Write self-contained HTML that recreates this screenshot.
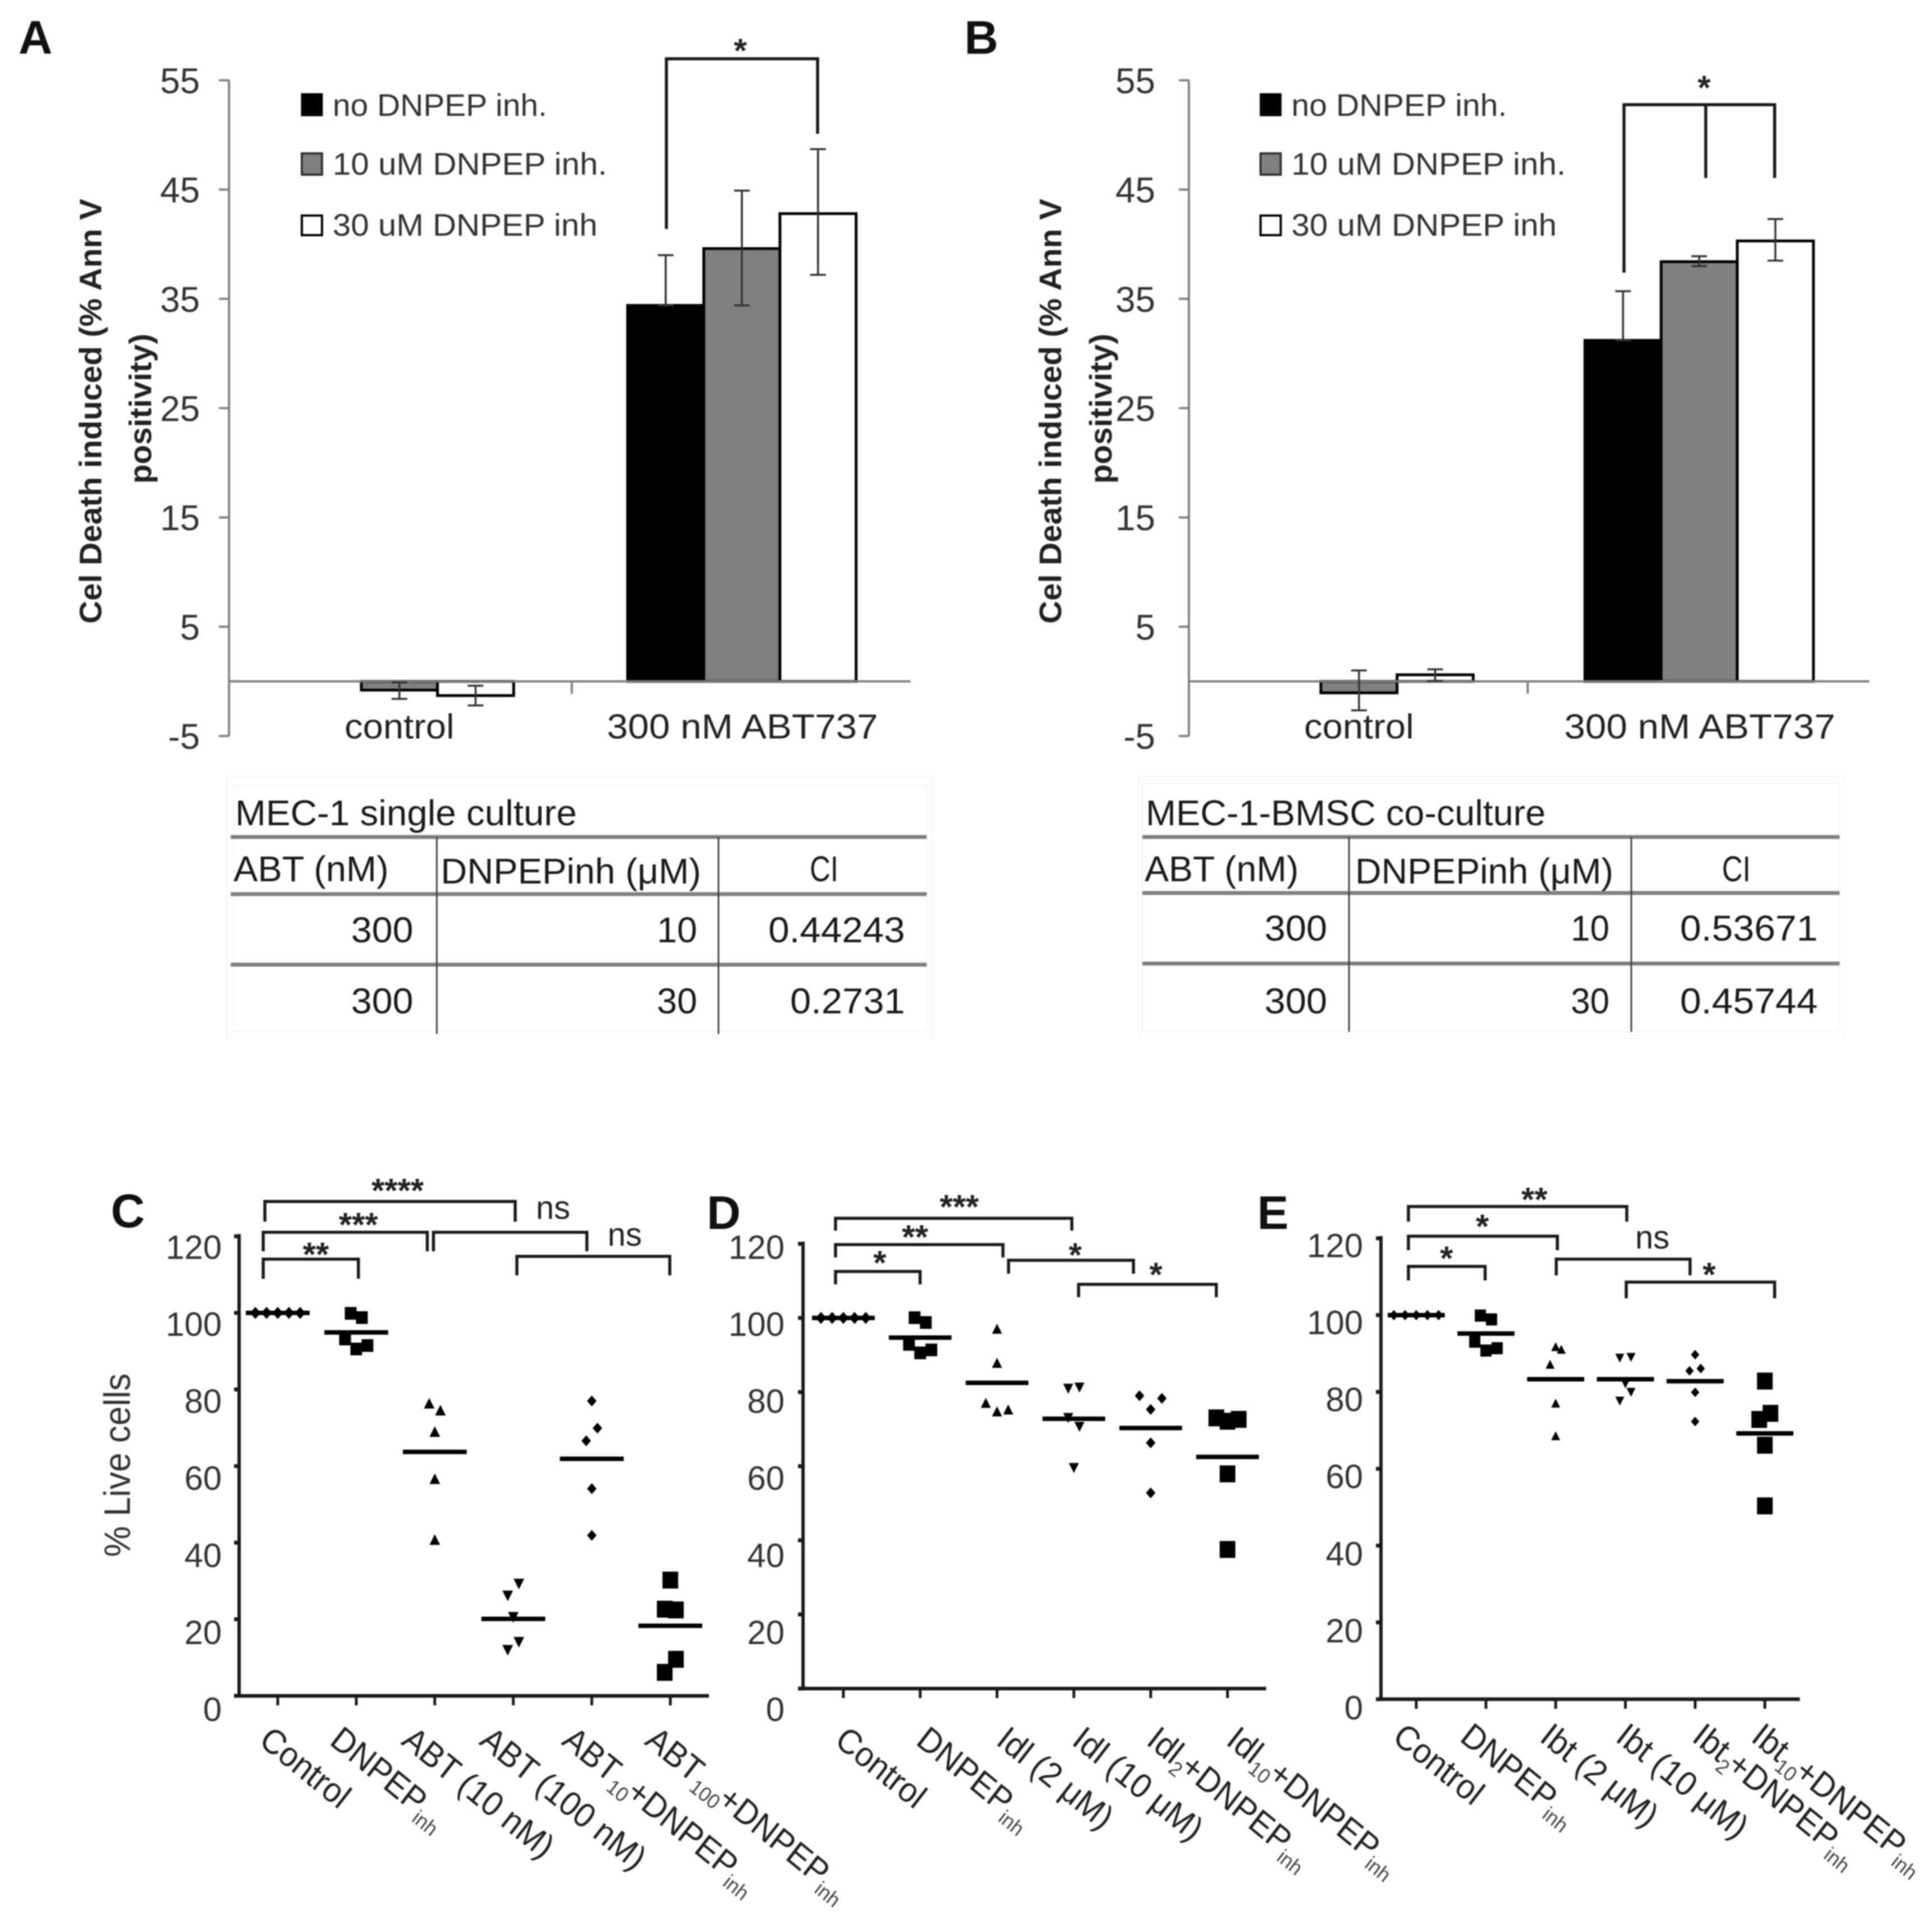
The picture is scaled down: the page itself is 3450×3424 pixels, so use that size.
<!DOCTYPE html>
<html lang="en">
<head>
<meta charset="utf-8">
<title>DNPEP inhibitor figure</title>
<style>
html,body{margin:0;padding:0;background:#fff;}
#figure{display:block;width:3450px;height:3424px;font-family:"Liberation Sans",sans-serif;filter:blur(1.1px);}
.lg{font-size:56px;fill:#333;}
.tb{font-size:64px;fill:#1a1a1a;}
.yt{font-size:56px;font-weight:700;fill:#222;}
.let{font-size:84px;font-weight:700;fill:#111;}
.br{fill:none;stroke:#1a1a1a;stroke-width:5.5;}
.st{font-size:60px;font-weight:700;fill:#222;text-anchor:middle;}
.ns{font-size:58px;fill:#222;}
.hl{stroke:#808080;stroke-width:7;}
.vl{stroke:#444;stroke-width:3;}
.fl{fill:none;stroke:#f4f4f4;stroke-width:2;}
</style>
</head>
<body>
<svg id="figure" xmlns="http://www.w3.org/2000/svg" width="3450" height="3424" viewBox="0 0 3450 3424">
<rect x="0" y="0" width="3450" height="3424" fill="#fff"/>
<text class="let" x="33" y="96">A</text>
<text class="let" x="1722" y="96">B</text>
<text class="let" x="198" y="2192">C</text>
<text class="let" x="1262" y="2195">D</text>
<text class="let" x="2245" y="2195">E</text>

<g>
<rect x="539" y="168" width="36" height="38" fill="#000" stroke="#000" stroke-width="3"/>
<rect x="539" y="274" width="36" height="38" fill="#808080" stroke="#333" stroke-width="4"/>
<rect x="539" y="385" width="36" height="35" fill="#fff" stroke="#000" stroke-width="4"/>
<text class="lg" x="594" y="207" textLength="383" lengthAdjust="spacingAndGlyphs">no DNPEP inh.</text>
<text class="lg" x="594" y="312" textLength="490" lengthAdjust="spacingAndGlyphs">10 uM DNPEP inh.</text>
<text class="lg" x="594" y="421" textLength="473" lengthAdjust="spacingAndGlyphs">30 uM DNPEP inh</text>
</g>
<g>
<rect x="2251" y="168" width="36" height="38" fill="#000" stroke="#000" stroke-width="3"/>
<rect x="2251" y="274" width="36" height="38" fill="#808080" stroke="#333" stroke-width="4"/>
<rect x="2251" y="385" width="36" height="35" fill="#fff" stroke="#000" stroke-width="4"/>
<text class="lg" x="2306" y="207" textLength="385" lengthAdjust="spacingAndGlyphs">no DNPEP inh.</text>
<text class="lg" x="2306" y="312" textLength="490" lengthAdjust="spacingAndGlyphs">10 uM DNPEP inh.</text>
<text class="lg" x="2306" y="421" textLength="474" lengthAdjust="spacingAndGlyphs">30 uM DNPEP inh</text>
</g>

<text class="yt" transform="translate(181,1114) rotate(-90)" textLength="759" lengthAdjust="spacingAndGlyphs">Cel Death induced (% Ann V</text>
<text class="yt" transform="translate(270,864) rotate(-90)" textLength="268" lengthAdjust="spacingAndGlyphs">positivity)</text>
<text class="yt" transform="translate(1895,1114) rotate(-90)" textLength="759" lengthAdjust="spacingAndGlyphs">Cel Death induced (% Ann V</text>
<text class="yt" transform="translate(1985,864) rotate(-90)" textLength="268" lengthAdjust="spacingAndGlyphs">positivity)</text>
<text transform="translate(232,2781) rotate(-90)" font-size="66" fill="#333" textLength="328" lengthAdjust="spacingAndGlyphs">% Live cells</text>

<g>
<rect class="fl" x="405" y="1387" width="1259" height="468"/>
<rect class="fl" x="417" y="1403" width="1237" height="440"/>
<line class="hl" x1="412" y1="1495" x2="1655" y2="1495"/>
<line class="hl" x1="412" y1="1597" x2="1655" y2="1597"/>
<line class="hl" x1="412" y1="1723" x2="1655" y2="1723"/>
<line class="vl" x1="780" y1="1495" x2="780" y2="1847"/>
<line class="vl" x1="1283" y1="1495" x2="1283" y2="1847"/>
<text class="tb" x="420" y="1474" textLength="610" lengthAdjust="spacingAndGlyphs">MEC-1 single culture</text>
<text class="tb" x="417" y="1574" textLength="277" lengthAdjust="spacingAndGlyphs">ABT (nM)</text>
<text class="tb" x="787" y="1578" textLength="465" lengthAdjust="spacingAndGlyphs">DNPEPinh (μM)</text>
<text class="tb" x="1446" y="1574" textLength="51" lengthAdjust="spacingAndGlyphs">CI</text>
<text class="tb" x="627" y="1683" textLength="111" lengthAdjust="spacingAndGlyphs">300</text>
<text class="tb" x="1173" y="1683" textLength="72" lengthAdjust="spacingAndGlyphs">10</text>
<text class="tb" x="1372" y="1683" textLength="244" lengthAdjust="spacingAndGlyphs">0.44243</text>
<text class="tb" x="627" y="1810" textLength="111" lengthAdjust="spacingAndGlyphs">300</text>
<text class="tb" x="1173" y="1810" textLength="72" lengthAdjust="spacingAndGlyphs">30</text>
<text class="tb" x="1411" y="1810" textLength="205" lengthAdjust="spacingAndGlyphs">0.2731</text>
</g>
<g>
<rect class="fl" x="2033" y="1387" width="1261" height="468"/>
<rect class="fl" x="2040" y="1399" width="1243" height="444"/>
<line class="hl" x1="2040" y1="1495" x2="3285" y2="1495"/>
<line class="hl" x1="2040" y1="1595" x2="3285" y2="1595"/>
<line class="hl" x1="2040" y1="1721" x2="3285" y2="1721"/>
<line class="vl" x1="2409" y1="1495" x2="2409" y2="1843"/>
<line class="vl" x1="2913" y1="1495" x2="2913" y2="1843"/>
<text class="tb" x="2046" y="1474" textLength="714" lengthAdjust="spacingAndGlyphs">MEC-1-BMSC co-culture</text>
<text class="tb" x="2044" y="1574" textLength="275" lengthAdjust="spacingAndGlyphs">ABT (nM)</text>
<text class="tb" x="2420" y="1578" textLength="461" lengthAdjust="spacingAndGlyphs">DNPEPinh (μM)</text>
<text class="tb" x="3075" y="1574" textLength="51" lengthAdjust="spacingAndGlyphs">CI</text>
<text class="tb" x="2258" y="1680" textLength="112" lengthAdjust="spacingAndGlyphs">300</text>
<text class="tb" x="2805" y="1680" textLength="69" lengthAdjust="spacingAndGlyphs">10</text>
<text class="tb" x="3000" y="1680" textLength="246" lengthAdjust="spacingAndGlyphs">0.53671</text>
<text class="tb" x="2258" y="1810" textLength="112" lengthAdjust="spacingAndGlyphs">300</text>
<text class="tb" x="2805" y="1810" textLength="69" lengthAdjust="spacingAndGlyphs">30</text>
<text class="tb" x="3000" y="1810" textLength="246" lengthAdjust="spacingAndGlyphs">0.45744</text>
</g>

<g>
<path class="br" d="M1190 409V105H1460V239"/>
<text class="st" x="1322" y="111">*</text>
<path class="br" d="M2900 487V187H3169V318M3046 187V318"/>
<text class="st" x="3043" y="177">*</text>

<path class="br" d="M470 2284V2249H640V2284"/>
<text class="st" x="564" y="2261">**</text>
<path class="br" d="M470 2235V2201H763V2235"/>
<text class="st" x="640" y="2208">***</text>
<path class="br" d="M774 2235V2201H1048V2235"/>
<path class="br" d="M473 2182V2146H920V2182"/>
<text class="st" x="710" y="2147">****</text>
<path class="br" d="M923 2278V2244H1196V2278"/>
<text class="ns" x="957" y="2177">ns</text>
<text class="ns" x="1085" y="2225">ns</text>

<path class="br" d="M1492 2294V2271H1643V2294"/>
<text class="st" x="1571" y="2276">*</text>
<path class="br" d="M1492 2246V2223H1791V2246"/>
<text class="st" x="1634" y="2230">**</text>
<path class="br" d="M1492 2198V2176H1914V2198"/>
<text class="st" x="1713" y="2176">***</text>
<path class="br" d="M1801 2275V2251H2024V2275"/>
<text class="st" x="1920" y="2262">*</text>
<path class="br" d="M1926 2317V2294H2172V2317"/>
<text class="st" x="2064" y="2297">*</text>

<path class="br" d="M2515 2287V2262H2652V2287"/>
<text class="st" x="2583" y="2268">*</text>
<path class="br" d="M2515 2233V2208H2781V2233"/>
<text class="st" x="2647" y="2211">*</text>
<path class="br" d="M2515 2182V2155H2905V2182"/>
<text class="st" x="2740" y="2163">**</text>
<path class="br" d="M2779 2278V2249H3018V2278"/>
<path class="br" d="M2904 2319V2290H3169V2319"/>
<text class="st" x="3052" y="2297">*</text>
<text class="ns" x="2920" y="2230">ns</text>
</g>

<g id="charts"></g>
</svg>
<script>
// ---------- bar chart data (panels A, B) ----------
const barCategories = ['control', '300 nM ABT737'];
const barTicks = [-5, 5, 15, 25, 35, 45, 55];

const aNoInh = [0, 34.4];
const a10uM = [-0.8, 39.6];
const a30uM = [-1.3, 42.8];
const aNoInhErrHigh = [null, 39.0];
const aNoInhErrLow = [null, 34.4];
const a10uMErrHigh = [-0.1, 44.9];
const a10uMErrLow = [-1.6, 34.4];
const a30uMErrHigh = [-0.4, 48.7];
const a30uMErrLow = [-2.2, 37.2];

const bNoInh = [0, 31.2];
const b10uM = [-1.05, 38.4];
const b30uM = [0.6, 40.3];
const bNoInhErrHigh = [null, 35.7];
const bNoInhErrLow = [null, 31.2];
const b10uMErrHigh = [1.0, 38.9];
const b10uMErrLow = [-2.65, 38.0];
const b30uMErrHigh = [1.1, 42.3];
const b30uMErrLow = [0.05, 38.5];

// ---------- strip plot data (panels C, D, E) ----------
const stripTicks = [0, 20, 40, 60, 80, 100, 120];

const cCategories = ['Control', 'DNPEP_inh_', 'ABT (10 nM)', 'ABT (100 nM)', 'ABT_10_+DNPEP_inh_', 'ABT_100_+DNPEP_inh_'];
const cControl = [100, 100, 100, 100, 100];
const cDnpep = [100, 98.9, 93.3, 90.7, 91.6];
const cAbt10 = [76.4, 74.6, 69, 56.7, 40.8];
const cAbt100 = [29.2, 26.1, 20.5, 14, 11.9];
const cAbt10Dnpep = [77, 69.9, 66.6, 54.1, 41.9];
const cAbt100Dnpep = [30.4, 22.8, 22.6, 9.7, 6.3];
const cMeans = [100, 94.9, 63.7, 20.1, 61.9, 18.3];

const dCategories = ['Control', 'DNPEP_inh_', 'Idl (2 μM)', 'Idl (10 μM)', 'Idl_2_+DNPEP_inh_', 'Idl_10_+DNPEP_inh_'];
const dControl = [100, 100, 100, 100, 100];
const dDnpep = [100.2, 98.9, 93, 90.7, 91.5];
const dIdl2 = [97.1, 87.9, 77.1, 74.8, 75.3];
const dIdl10 = [80.9, 81.2, 73, 70.6, 59.5];
const dIdl2Dnpep = [79, 78.3, 75.3, 66.3, 52.8];
const dIdl10Dnpep = [73.2, 72.8, 72.3, 58.1, 37.7];
const dMeans = [100, 94.7, 82.5, 72.8, 70.3, 62.5];

const eCategories = ['Control', 'DNPEP_inh_', 'Ibt (2 μM)', 'Ibt (10 μM)', 'Ibt_2_+DNPEP_inh_', 'Ibt_10_+DNPEP_inh_'];
const eControl = [100, 100, 100, 100, 100];
const eDnpep = [100, 99, 93.2, 90.9, 91.5];
const eIbt2 = [91.8, 91.1, 87.2, 77.1, 68.6];
const eIbt10 = [88.8, 89, 82.1, 79.9, 77.6];
const eIbt2Dnpep = [89.7, 85.5, 86.1, 79.9, 72.3];
const eIbt10Dnpep = [83, 74.6, 73, 66.3, 50.5];
const eMeans = [100, 95.2, 83.3, 83.3, 82.8, 69.2];

// swarm arrangement (slot index around the column centre, not data)
const cSlots = [[-4,-2,0,2,4],[-1,1,-2,0,2],[-1,1,0,0,0],[1,-1,0,1,-1],[0,1,-1,0,0],[0,-1,1,1,-1]];
const dSlots = [[-4,-2,0,2,4],[-1,1,-2,0,2],[0,0,-2,0,2],[-1,1,-1,1,0],[-2,2,0,0,0],[-2,2,0,0,0]];
const eSlots = [[-4,-2,0,2,4],[-1,1,-2,0,2],[0,1,-1,0,0],[-1,1,0,1,-1],[0,-1,1,0,0],[0,1,-1,0,0]];
const markerKinds = ['diamond', 'square', 'triangle', 'inverted', 'diamond', 'square'];

const root = document.getElementById('charts');
const NS = 'http://www.w3.org/2000/svg';

function shape(tag, attrs) {
  const el = document.createElementNS(NS, tag);
  for (const k in attrs) el.setAttribute(k, attrs[k]);
  root.appendChild(el);
  return el;
}
function line(x1, y1, x2, y2, color, width, name) {
  const el = shape('line', {x1: x1, y1: y1, x2: x2, y2: y2, stroke: color, 'stroke-width': width});
  
  
  return el;
}
function label(x, y, str, size, color, anchor, name) {
  const el = shape('text', {x: x, y: y, 'font-size': size, fill: color, 'text-anchor': anchor});
  el.textContent = str;
  
  
  return el;
}

function drawBarPanel(g, series, errHigh, errLow) {
  const yScale = v => g.yZero - v * g.pxPerUnit;
  const band = i => g.axisX + (g.right - g.axisX) * (i + 0.5) / barCategories.length + g.groupNudge[i];
  line(g.axisX, yScale(55), g.axisX, yScale(-5), '#808080', 4, 'y-axis');
  barTicks.forEach(t => {
    line(g.axisX - 18, yScale(t), g.axisX, yScale(t), '#808080', 4, 'y-tick');
    label(g.labelRight, yScale(t) + 23, String(t), 64, '#333', 'end', 'y-tick-label');
  });
  const fills = ['#000', '#808080', '#fff'];
  series.forEach((vals, s) => {
    vals.forEach((v, i) => {
      if (v === 0) return;
      const x = band(i) + (s - 1.5) * g.barWidth;
      const top = Math.min(yScale(v), yScale(0));
      const h = Math.abs(yScale(v) - yScale(0));
      const bar = shape('rect', {x: x, y: top, width: g.barWidth, height: h, fill: fills[s], stroke: '#000', 'stroke-width': 5});
      
      
    });
  });
  line(g.axisX, yScale(0), g.right, yScale(0), '#808080', 4, 'x-axis');
  line(g.midTick, yScale(0), g.midTick, yScale(0) + 22, '#808080', 4, 'x-tick');
  series.forEach((vals, s) => {
    vals.forEach((v, i) => {
      if (errHigh[s][i] === null) return;
      const x = band(i) + (s - 1) * g.barWidth;
      line(x, yScale(errHigh[s][i]), x, yScale(errLow[s][i]), '#333', 3.5, 'error-bar');
      line(x - 14, yScale(errHigh[s][i]), x + 14, yScale(errHigh[s][i]), '#333', 3.5, 'error-bar-cap');
      line(x - 14, yScale(errLow[s][i]), x + 14, yScale(errLow[s][i]), '#333', 3.5, 'error-bar-cap');
    });
  });
  barCategories.forEach((c, i) => {
    const x = band(i) + (i === 0 ? 0 : 1);
    const el = label(x, g.catBaseline, c, 62, '#222', 'middle', 'x-category-label');
    el.setAttribute('textLength', i === 0 ? 196 : 484);
    el.setAttribute('lengthAdjust', 'spacingAndGlyphs');
  });
}

function drawMarker(kind, cx, cy, size) {
  let el;
  const r = size / 2;
  if (kind === 'square') {
    el = shape('rect', {x: cx - r, y: cy - r, width: size, height: size * 1.08, fill: '#000'});
  } else if (kind === 'triangle') {
    el = shape('polygon', {points: (cx) + ',' + (cy - r) + ' ' + (cx + r) + ',' + (cy + r) + ' ' + (cx - r) + ',' + (cy + r), fill: '#000'});
  } else if (kind === 'inverted') {
    el = shape('polygon', {points: (cx) + ',' + (cy + r) + ' ' + (cx + r) + ',' + (cy - r) + ' ' + (cx - r) + ',' + (cy - r), fill: '#000'});
  } else {
    el = shape('polygon', {points: (cx) + ',' + (cy - r * 1.15) + ' ' + (cx + r) + ',' + (cy) + ' ' + (cx) + ',' + (cy + r * 1.15) + ' ' + (cx - r) + ',' + (cy), fill: '#000'});
  }
  
  
}

function drawCategoryLabel(str, x, y) {
  const el = shape('text', {transform: 'matrix(0.82,0.67,-0.68,0.88,' + x + ',' + y + ')', 'font-size': 55, fill: '#222'});
  
  
  str.split('_').forEach((part, i) => {
    if (!part) return;
    const ts = document.createElementNS(NS, 'tspan');
    ts.textContent = part;
    if (i % 2 === 1) {
      ts.setAttribute('font-size', '33');
      ts.setAttribute('fill', '#444');
      ts.setAttribute('dy', '12');
    } else if (i > 0) {
      ts.setAttribute('dy', '-12');
      ts.setAttribute('dx', '-4');
    }
    el.appendChild(ts);
  });
}

function drawStripPanel(g, cats, series, means, slots) {
  const yScale = v => g.y0 - v * g.pxPerUnit;
  const xScale = i => g.xFirst + i * g.xStep;
  line(g.axisX, yScale(120) - 4, g.axisX, yScale(0) + 3, '#1a1a1a', 6, 'y-axis');
  line(g.axisX, yScale(0), g.right, yScale(0), '#1a1a1a', 6.5, 'x-axis');
  stripTicks.forEach(t => {
    line(g.axisX - 9, yScale(t), g.axisX, yScale(t), '#1a1a1a', 7, 'y-tick');
    label(g.labelRight, g.label0 - t * 6.88, String(t), 60, '#333', 'end', 'y-tick-label');
  });
  cats.forEach((c, i) => {
    line(xScale(i), yScale(0), xScale(i), yScale(0) + 17, '#1a1a1a', 5, 'x-tick');
    drawCategoryLabel(c, xScale(i) + g.labelDx[i], g.labelY);
  });
  series.forEach((vals, i) => {
    vals.forEach((v, j) => {
      const size = g.sizes[i];
      drawMarker(markerKinds[i], xScale(i) + slots[i][j] * g.slotPx, yScale(v), size);
    });
    line(xScale(i) - g.meanHalf, yScale(means[i]), xScale(i) + g.meanHalf, yScale(means[i]), '#000', 8, 'mean-line');
  });
}

drawBarPanel(
  {axisX: 409, right: 1626, yZero: 1217, pxPerUnit: 19.52, barWidth: 136, labelRight: 357, catBaseline: 1319, groupNudge: [0, 3], midTick: 1021},
  [aNoInh, a10uM, a30uM],
  [aNoInhErrHigh, a10uMErrHigh, a30uMErrHigh],
  [aNoInhErrLow, a10uMErrLow, a30uMErrLow]
);
drawBarPanel(
  {axisX: 2123, right: 3338, yZero: 1217, pxPerUnit: 19.52, barWidth: 136, labelRight: 2063, catBaseline: 1319, groupNudge: [0, 0], midTick: 2728},
  [bNoInh, b10uM, b30uM],
  [bNoInhErrHigh, b10uMErrHigh, b30uMErrHigh],
  [bNoInhErrLow, b10uMErrLow, b30uMErrLow]
);
drawStripPanel(
  {axisX: 427, right: 1266, y0: 3029, pxPerUnit: 6.84, xFirst: 496, xStep: 140.2, label0: 3074, labelRight: 396,
   slotPx: 10, meanHalf: 57, labelY: 3114, labelDx: [-36, -50, -62, -63, -56, -48], sizes: [19, 21, 19, 19, 17, 28]},
  cCategories,
  [cControl, cDnpep, cAbt10, cAbt100, cAbt10Dnpep, cAbt100Dnpep],
  cMeans, cSlots
);
drawStripPanel(
  {axisX: 1434, right: 2261, y0: 3016, pxPerUnit: 6.62, xFirst: 1506, xStep: 137.2, label0: 3074, labelRight: 1401,
   slotPx: 10, meanHalf: 56, labelY: 3114, labelDx: [-18, -10, -4, -6, -10, -5], sizes: [19, 21, 18, 18, 17, 28]},
  dCategories,
  [dControl, dDnpep, dIdl2, dIdl10, dIdl2Dnpep, dIdl10Dnpep],
  dMeans, dSlots
);
drawStripPanel(
  {axisX: 2466, right: 3214, y0: 3035, pxPerUnit: 6.86, xFirst: 2529, xStep: 124.5, label0: 3071, labelRight: 2434,
   slotPx: 10, meanHalf: 51, labelY: 3108, labelDx: [-45, -49, -31, -20, -8, -27], sizes: [16, 20, 16, 16, 15, 28]},
  eCategories,
  [eControl, eDnpep, eIbt2, eIbt10, eIbt2Dnpep, eIbt10Dnpep],
  eMeans, eSlots
);
</script>
</body>
</html>
